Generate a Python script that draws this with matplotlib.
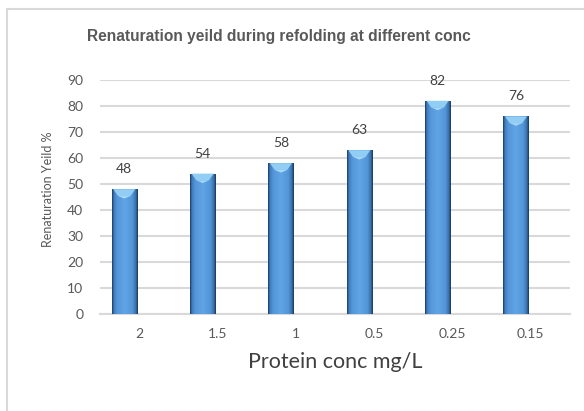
import matplotlib
matplotlib.use('Agg')
import matplotlib.pyplot as plt
from matplotlib.colors import LinearSegmentedColormap
from matplotlib.patches import Rectangle, Polygon
import numpy as np

conc = ['2', '1.5', '1', '0.5', '0.25', '0.15']
yield_pct = [48, 54, 58, 63, 82, 76]

plt.rcParams['font.family'] = ['Lato', 'DejaVu Sans']

fig = plt.figure(figsize=(5.84, 4.11), dpi=100)
ax = fig.add_axes([100/584, 1 - 314/411, 470/584, 234/411])

# outer chart border (only left and top visible)
fig.patches.append(Rectangle((7/584, -0.1), 1.2, 1.1 - 9/411, transform=fig.transFigure,
                             fill=False, edgecolor='#d9d9d9', linewidth=1.5))

x = np.arange(len(conc))
shift = -0.19   # bars sit a little left of the category centre
width = 0.32

cmap = LinearSegmentedColormap.from_list('bar', [
    (0.0, '#1c3d63'), (0.07, '#3f7cbf'), (0.2, '#5596d9'), (0.5, '#61a5e6'),
    (0.8, '#5294d6'), (0.92, '#3b73ad'), (1.0, '#1a3a5e')])
grad = np.linspace(0, 1, 64).reshape(1, -1)

for xi, v in zip(x, yield_pct):
    left = xi + shift - width / 2
    im = ax.imshow(grad, cmap=cmap, aspect='auto', extent=(left, left + width, 0, v), zorder=3)
    clip = Rectangle((left, 0), width, v, transform=ax.transData)
    im.set_clip_path(clip)
    # bevelled top
    ax.add_patch(Polygon([(left + width * 0.06, v), (left + width * 0.94, v),
                          (left + width * 0.75, v - 2.6), (left + width * 0.25, v - 2.6)],
                         closed=True, facecolor='#92cdf4', edgecolor='none', zorder=4))
    ax.add_patch(Polygon([(left + width * 0.25, v - 2.6), (left + width * 0.75, v - 2.6),
                          (left + width / 2, v - 3.6)], closed=True,
                         facecolor='#a6d9f8', edgecolor='none', zorder=4))
    ax.annotate(str(v), (xi + shift, v), xytext=(0, 14.4), textcoords='offset points',
                ha='center', va='center', fontsize=10, color='#404040')

ax.set_xlim(-0.5, len(conc) - 0.5)
ax.set_ylim(0, 90)
ax.set_yticks(range(0, 91, 10))
ax.set_xticks(x)
ax.set_xticklabels(conc)
ax.tick_params(length=0, labelsize=10, colors='#595959', pad=10)
ax.tick_params(axis='y', pad=12)
ax.grid(axis='y', color='#d9d9d9', linewidth=1.5, zorder=0)
ax.set_axisbelow(True)
for s in ['top', 'right', 'left']:
    ax.spines[s].set_visible(False)
ax.spines['bottom'].set_color('#d9d9d9')
ax.spines['bottom'].set_linewidth(1.5)

ax.set_xlabel('Protein conc mg/L', fontsize=15.5, color='#404040', labelpad=9)
fig.text(48/584, 1 - 189/411, 'Renaturation Yeild %', rotation=90, ha='center', va='center',
         fontsize=9, color='#595959')
fig.text(279/584, 1 - 36/411, 'Renaturation yeild during refolding at different conc',
         ha='center', va='center', fontsize=11.2, fontweight='bold', color='#595959',
         family=['Liberation Sans', 'DejaVu Sans'])

fig.savefig('out.png', dpi=100)
